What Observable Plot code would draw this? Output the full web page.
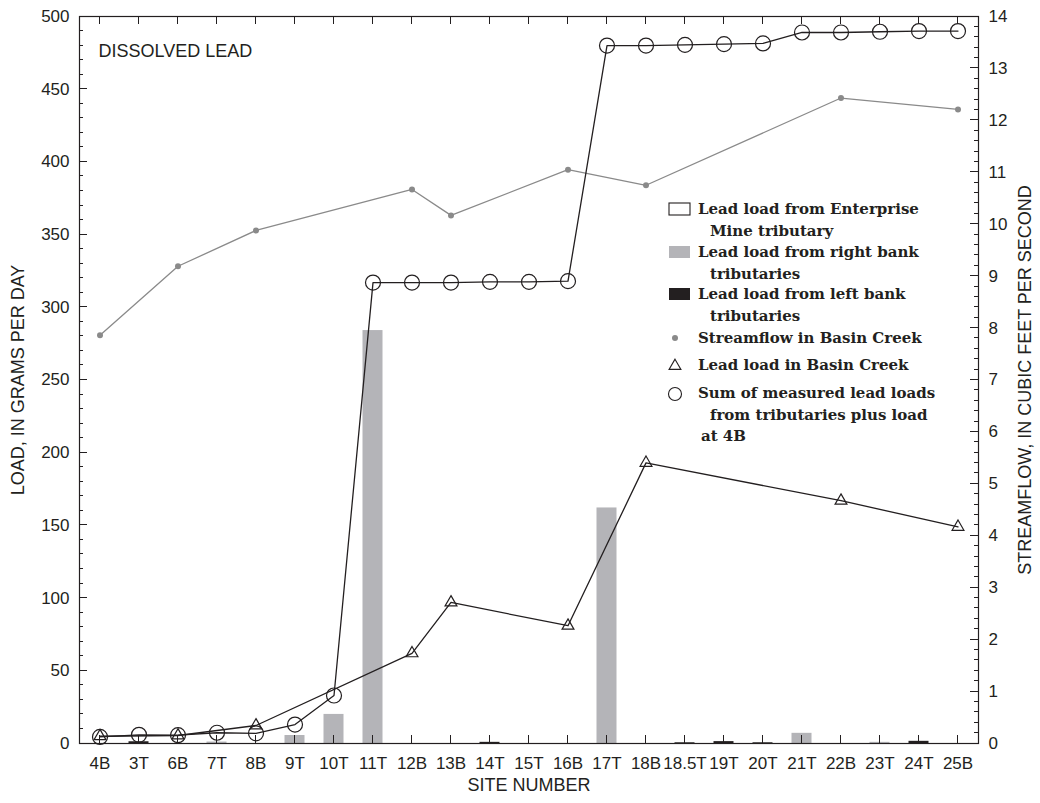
<!DOCTYPE html>
<html>
<head>
<meta charset="utf-8">
<script src="https://cdn.jsdelivr.net/npm/d3@7"></script>
<script src="https://cdn.jsdelivr.net/npm/@observablehq/plot@0.6"></script>
<style>
  body { margin: 0; background: #fff; }
  #chart { position: relative; width: 1040px; height: 803px; }
</style>
</head>
<body>
<div id="chart"></div>
<script>
// Sampling sites along Basin Creek, upstream to downstream
const sites = ["4B","3T","6B","7T","8B","9T","10T","11T","12B","13B","14T","15T","16B","17T","18B","18.5T","19T","20T","21T","22B","23T","24T","25B"];

// Dissolved lead load from tributaries, grams per day (null = not a tributary of that bank)
const rightBankLoad = [null,null,null,1.0,null,5.5,20,284,null,null,null,null,null,162,null,null,null,null,7,null,0.8,null,null];
const leftBankLoad  = [null,1.2,null,null,null,null,null,null,null,null,0.8,null,null,null,null,0.5,1.3,0.5,null,null,null,1.5,null];

// Cumulative sum of measured tributary loads plus the load at 4B, grams per day
const sumLoad = [4.5,6,5.7,7.4,7,13,33,317,317,317,317.5,317.5,318,480,480,480.5,481,481.5,489,489,489.5,490,490];

// Main-stem sites
const creekSites = ["4B","6B","8B","12B","13B","16B","18B","22B","25B"];
const creekLoad  = [5,5.5,12.4,62,97,81,193,167,149];            // grams per day
const creekFlow  = [7.86,9.19,9.88,10.67,10.17,11.05,10.75,12.43,12.21]; // cubic feet per second

// Axis ticks
const loadTicks = d3.range(0, 501, 50);
const loadMinor = d3.range(0, 501, 10);
const flowTicks = d3.range(0, 15, 1);
const flowMinor = d3.range(0, 71, 1).map(k => k / 5);

// Streamflow shares the load axis: 14 cfs maps to 500 g/d
const flowMax = 14, loadMax = 500;
const toLoad = q => q * loadMax / flowMax;

const ink = "#231f20";
const gray = "#b4b4b8";
const flowGray = "#8a8a8a";

const rightBars = sites.map((s, i) => ({site: s, load: rightBankLoad[i]})).filter(d => d.load != null);
const leftBars = sites.map((s, i) => ({site: s, load: leftBankLoad[i]})).filter(d => d.load != null);
const sumRows = sites.map((s, i) => ({site: s, load: sumLoad[i]}));
const creekRows = creekSites.map((s, i) => ({site: s, load: creekLoad[i], flow: creekFlow[i]}));

const W = 1040, H = 803, mL = 79, mR = 62, mT = 16, mB = 60;
const inset = 9.5;

// Tick labels only
const textOnly = o => ({...o, stroke: "none", fill: ink, tickSize: 0, label: null});

const chart = Plot.plot({
  width: W,
  height: H,
  marginLeft: mL,
  marginRight: mR,
  marginTop: mT,
  marginBottom: mB,
  style: {fontFamily: "'Liberation Sans', Arial, sans-serif", fontSize: "17px", color: ink, background: "#fff", overflow: "visible"},
  x: {type: "band", domain: sites, padding: 0, axis: null},
  y: {domain: [0, loadMax], axis: null},
  marks: [
    Plot.barY(rightBars, {x: "site", y: "load", fill: gray, insetLeft: inset, insetRight: inset}),
    Plot.barY(leftBars, {x: "site", y: "load", fill: ink, insetLeft: inset, insetRight: inset}),

    Plot.line(creekRows, {x: "site", y: d => toLoad(d.flow), stroke: flowGray, strokeWidth: 1.3}),
    Plot.dot(creekRows, {x: "site", y: d => toLoad(d.flow), r: 3, fill: flowGray}),

    Plot.line(sumRows, {x: "site", y: "load", stroke: ink, strokeWidth: 1.3}),
    Plot.dot(sumRows, {x: "site", y: "load", r: 7.5, stroke: ink, strokeWidth: 1.2, fill: "none"}),

    Plot.line(creekRows, {x: "site", y: "load", stroke: ink, strokeWidth: 1.3}),
    Plot.dot(creekRows, {x: "site", y: "load", symbol: "triangle", r: 4.4, stroke: ink, strokeWidth: 1.2, fill: "none"}),

    Plot.frame({stroke: ink, strokeWidth: 1.2}),

    // tick labels
    Plot.axisX(textOnly({anchor: "bottom", tickPadding: 13})),
    Plot.axisY(textOnly({anchor: "left", ticks: loadTicks, tickPadding: 10})),
    Plot.axisY(textOnly({anchor: "right", ticks: flowTicks.map(toLoad), tickFormat: d => Math.round(d * flowMax / loadMax), tickPadding: 10})),

    // titles
    Plot.text(["LOAD, IN GRAMS PER DAY"], {frameAnchor: "left", textAnchor: "middle", rotate: -90, dx: -61, fontSize: 18, fill: ink}),
    Plot.text(["STREAMFLOW, IN CUBIC FEET PER SECOND"], {frameAnchor: "right", textAnchor: "middle", rotate: -90, dx: 47, fontSize: 18, fill: ink}),
    Plot.text(["SITE NUMBER"], {frameAnchor: "bottom", textAnchor: "middle", dy: 47, fontSize: 18, fill: ink}),
    Plot.text(["DISSOLVED LEAD"], {frameAnchor: "top-left", textAnchor: "start", lineAnchor: "middle", dx: 19, dy: 35, fontSize: 18, fill: ink})
  ]
});

document.getElementById("chart").appendChild(chart);

// Inward tick marks on all four sides, placed through the chart's own scales
const xs = chart.scale("x"), ys = chart.scale("y");
const xAt = s => xs.apply(s) + (xs.bandwidth || 0) / 2;
const yAt = v => ys.apply(v);
const frameLeft = mL, frameRight = W - mR, frameTop = mT, frameBottom = H - mB;
const tickLayer = d3.select(chart).append("g")
  .attr("stroke", ink).attr("stroke-width", 1).attr("shape-rendering", "crispEdges");
const hTicks = (values, x0, dir, len) => tickLayer.append("g").selectAll("line").data(values).join("line")
  .attr("x1", x0).attr("x2", x0 + dir * len).attr("y1", yAt).attr("y2", yAt);
const vTicks = (values, y0, dir, len) => tickLayer.append("g").selectAll("line").data(values).join("line")
  .attr("y1", y0).attr("y2", y0 + dir * len).attr("x1", xAt).attr("x2", xAt);
hTicks(loadMinor, frameLeft, 1, 4);
hTicks(loadTicks, frameLeft, 1, 8);
hTicks(flowMinor.map(toLoad), frameRight, -1, 4);
hTicks(flowTicks.map(toLoad), frameRight, -1, 8);
vTicks(sites, frameBottom, -1, 8);
vTicks(sites, frameTop, 1, 8);

// Legend, set inside the plot frame
const legendItems = [
  {swatch: "open", y: 209, lines: ["Lead load from Enterprise", "Mine tributary"]},
  {swatch: "gray", y: 252, lines: ["Lead load from right bank", "tributaries"]},
  {swatch: "black", y: 294, lines: ["Lead load from left bank", "tributaries"]},
  {swatch: "dot", y: 338, lines: ["Streamflow in Basin Creek"]},
  {swatch: "triangle", y: 365, lines: ["Lead load in Basin Creek"]},
  {swatch: "circle", y: 393, lines: ["Sum of measured lead loads", "from tributaries plus load", "at 4B"]}
];
const legend = d3.select(chart).append("g")
  .attr("font-family", "'DejaVu Serif', 'Liberation Serif', serif")
  .attr("font-weight", "bold")
  .attr("font-size", 15)
  .attr("text-anchor", "start")
  .attr("fill", ink);
const sx = 669, tx = 698, indent = 710, lineGap = 21.5;
legendItems.forEach(item => {
  const g = legend.append("g");
  if (item.swatch === "open" || item.swatch === "gray" || item.swatch === "black") {
    g.append("rect").attr("x", sx).attr("y", item.y - 6).attr("width", 21).attr("height", 12)
      .attr("fill", item.swatch === "open" ? "#fff" : item.swatch === "gray" ? gray : ink)
      .attr("stroke", item.swatch === "open" ? ink : "none").attr("stroke-width", 1.1);
  } else if (item.swatch === "dot") {
    g.append("circle").attr("cx", sx + 6).attr("cy", item.y).attr("r", 3).attr("fill", flowGray);
  } else if (item.swatch === "triangle") {
    g.append("path").attr("transform", `translate(${sx + 6},${item.y + 1})`)
      .attr("d", d3.symbol(d3.symbolTriangle, Math.PI * 4.4 * 4.4)()).attr("fill", "none").attr("stroke", ink).attr("stroke-width", 1.1);
  } else {
    g.append("circle").attr("cx", sx + 6).attr("cy", item.y + 1).attr("r", 6.5).attr("fill", "none").attr("stroke", ink).attr("stroke-width", 1.1);
  }
  item.lines.forEach((line, j) => {
    g.append("text")
      .attr("x", j === 0 ? tx : (line === "at 4B" ? 701 : indent))
      .attr("y", item.y + j * lineGap)
      .attr("dy", "0.36em")
      .text(line);
  });
});
</script>
</body>
</html>
